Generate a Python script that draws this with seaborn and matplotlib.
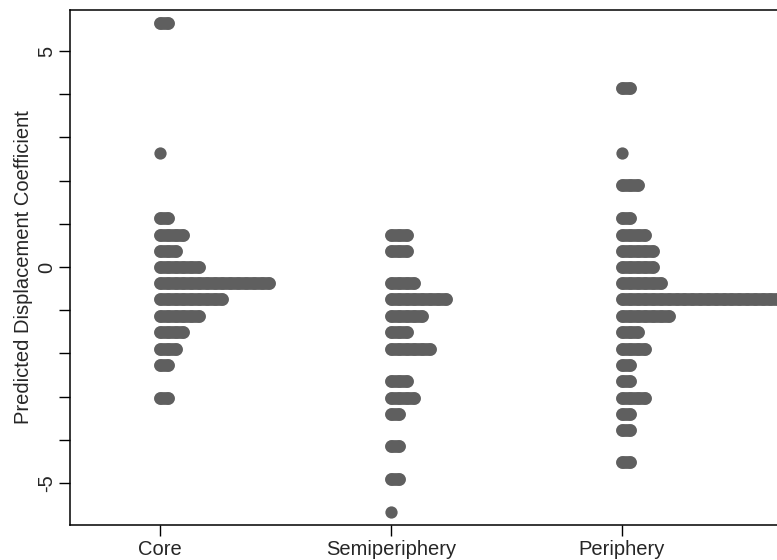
import numpy as np
import pandas as pd
import matplotlib
matplotlib.use("Agg")
import matplotlib.pyplot as plt
import seaborn as sns

# ---- data (bin centre values and number of observations in each bin) ----
categories = ["Core", "Semiperiphery", "Periphery"]

core_vals = [5.66, 2.64, 1.13, 0.75, 0.38, 0.0, -0.38, -0.75, -1.13, -1.51, -1.89, -2.26, -3.02]
core_counts = [2, 1, 2, 4, 3, 6, 15, 9, 6, 4, 3, 2, 2]

semi_vals = [0.75, 0.38, -0.38, -0.75, -1.13, -1.51, -1.89, -2.64, -3.02, -3.39, -4.15, -4.90, -5.66]
semi_counts = [3, 3, 4, 8, 5, 3, 6, 3, 4, 2, 2, 2, 1]

peri_vals = [4.15, 2.64, 1.89, 1.13, 0.75, 0.38, 0.0, -0.38, -0.75, -1.13, -1.51,
             -1.89, -2.26, -2.64, -3.02, -3.39, -3.77, -4.52]
peri_counts = [2, 1, 3, 2, 4, 5, 5, 6, 22, 7, 3, 4, 2, 2, 4, 2, 2, 2]

y_ticks = [-5, 0, 5]
y_label = "Predicted Displacement Coefficient"

# ---- build long table of dots ----
dot_step = 0.0338  # horizontal spacing between stacked dots (category units)
rows = []
bars = []
for ci, (vals, cnts) in enumerate([(core_vals, core_counts),
                                   (semi_vals, semi_counts),
                                   (peri_vals, peri_counts)]):
    for v, n in zip(vals, cnts):
        for j in range(n):
            rows.append({"x": ci + j * dot_step, "y": v, "group": categories[ci]})
        bars.append((v, ci, ci + (n - 1) * dot_step))
df = pd.DataFrame(rows)
bar_df = pd.DataFrame(bars, columns=["y", "x0", "x1"])

sns.set_theme(style="white")
plt.rcParams["font.family"] = ["Liberation Sans", "DejaVu Sans"]

fig = plt.figure(figsize=(7.77, 5.60), dpi=100)
W, H = 777, 560
ax = fig.add_axes([70 / W, 35 / H, (800 - 70) / W, 515 / H])

dot_color = "#5f5f5f"
marker_area = 78
marker_d = np.sqrt(marker_area)

sns.scatterplot(data=df, x="x", y="y", ax=ax, color=dot_color, s=marker_area,
                linewidth=0, legend=False, zorder=3)
# fill between overlapping dots of a row so each row reads as one smooth stack
lc = ax.hlines(bar_df["y"], bar_df["x0"], bar_df["x1"], colors=dot_color,
               linewidth=marker_d * 1.04, zorder=4)
lc.set_capstyle("round")

ax.set_xlim(-90 / 231, (800 - 160) / 231)
ax.set_ylim(-5.97, 5.95)

ax.set_xticks(range(len(categories)))
ax.set_xticklabels(categories, fontsize=14.5)
ax.set_yticks(y_ticks)
ax.set_yticklabels([str(t) for t in y_ticks], fontsize=14.5, rotation=90, va="center")
ax.set_yticks(np.arange(-5, 6, 1), minor=True)

ax.tick_params(axis="both", which="both", direction="out", length=8, width=1.0,
               color="black", left=True, bottom=True)
ax.tick_params(axis="y", which="major", pad=2)
ax.tick_params(axis="x", which="major", pad=3)

ax.set_xlabel("")
ax.set_ylabel(y_label, fontsize=14.5)
ax.yaxis.set_label_coords(-0.0507, 0.5)

for side in ["left", "bottom", "top", "right"]:
    ax.spines[side].set_visible(True)
    ax.spines[side].set_color("black")
    ax.spines[side].set_linewidth(1.1)

ax.grid(False)
ax.set_facecolor("white")
fig.patch.set_facecolor("white")

fig.savefig("out.png", dpi=100)
